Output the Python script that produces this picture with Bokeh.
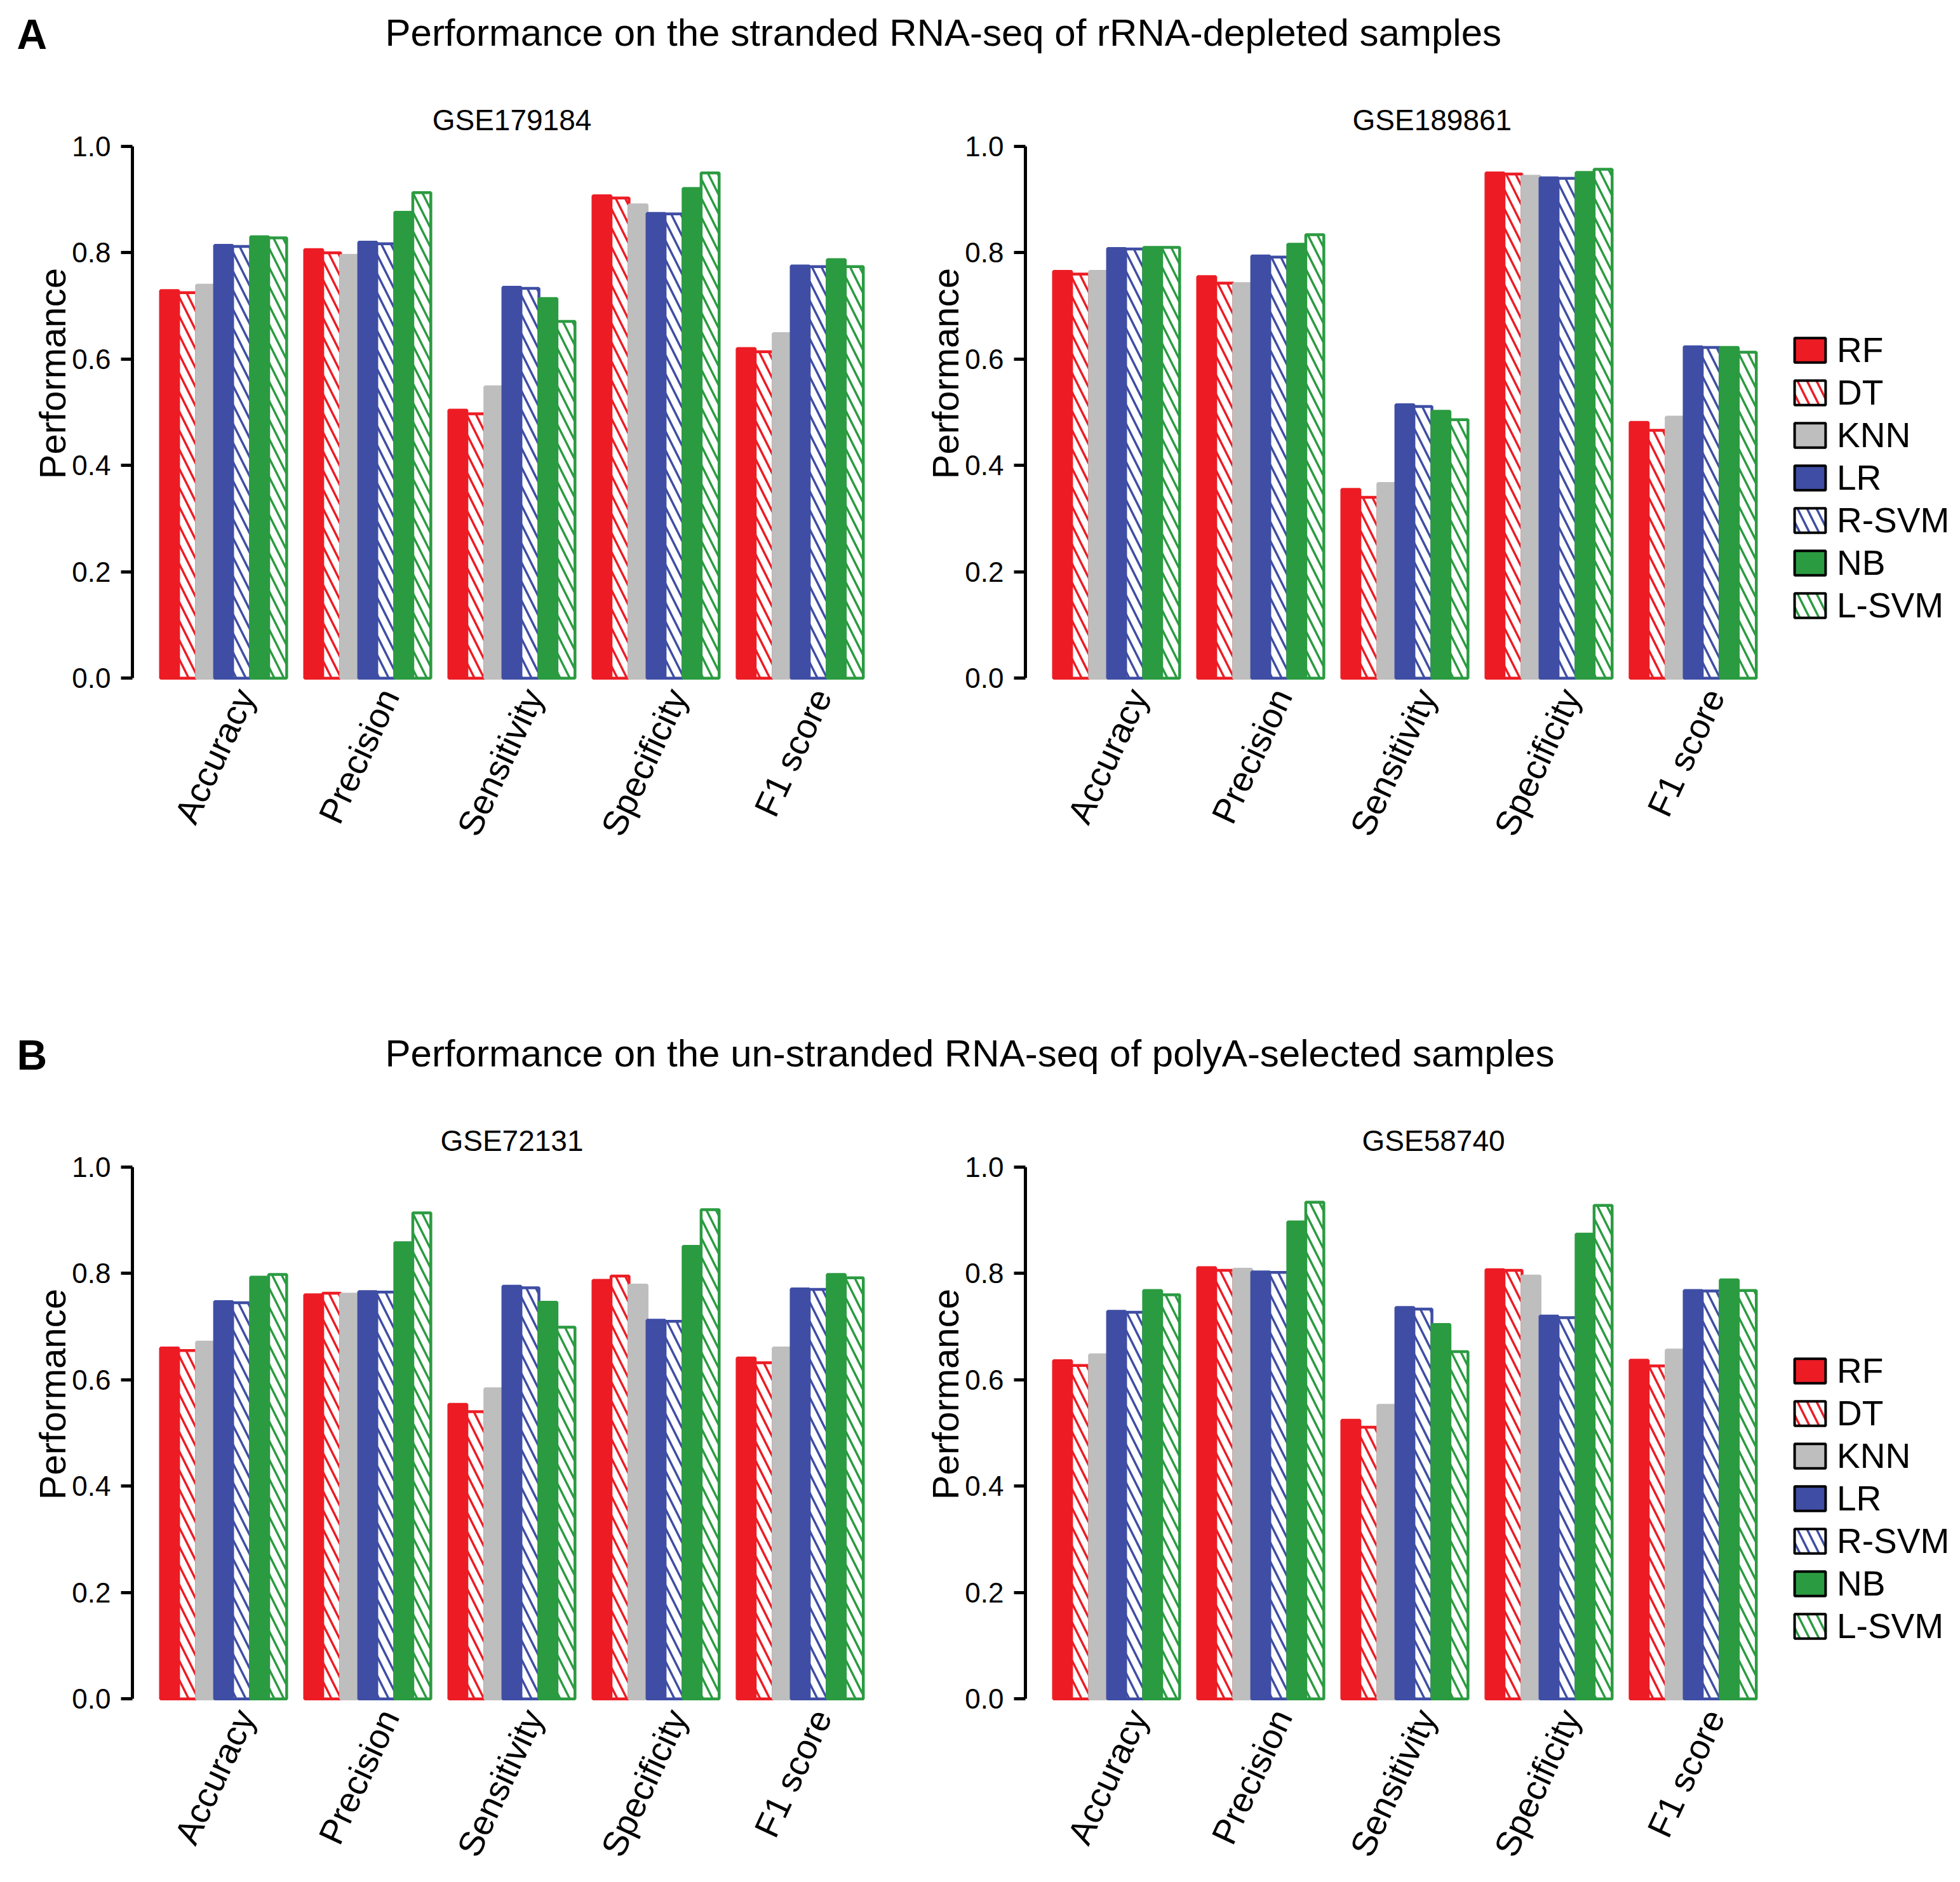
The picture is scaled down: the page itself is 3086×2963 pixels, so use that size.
from bokeh.plotting import figure
from bokeh.models import (ColumnDataSource, FixedTicker, PrintfTickFormatter, Legend,
                          LegendItem, Label, Range1d)
from bokeh.layouts import column, row
from bokeh.embed import file_html
from bokeh.resources import INLINE
from bokeh.core.properties import value

# ---------------- data ----------------
models = ["RF", "DT", "KNN", "LR", "R-SVM", "NB", "L-SVM"]
metrics = ["Accuracy", "Precision", "Sensitivity", "Specificity", "F1 score"]

# values per model, in the order of `metrics`
gse179184 = {
    "RF":    [0.729, 0.806, 0.504, 0.907, 0.620],
    "DT":    [0.725, 0.800, 0.497, 0.903, 0.614],
    "KNN":   [0.739, 0.795, 0.548, 0.890, 0.648],
    "LR":    [0.814, 0.820, 0.735, 0.874, 0.775],
    "R-SVM": [0.812, 0.817, 0.733, 0.873, 0.774],
    "NB":    [0.830, 0.876, 0.714, 0.921, 0.787],
    "L-SVM": [0.828, 0.913, 0.671, 0.950, 0.774],
}
gse189861 = {
    "RF":    [0.765, 0.755, 0.355, 0.950, 0.481],
    "DT":    [0.760, 0.743, 0.340, 0.948, 0.466],
    "KNN":   [0.765, 0.742, 0.366, 0.944, 0.491],
    "LR":    [0.808, 0.794, 0.514, 0.941, 0.623],
    "R-SVM": [0.807, 0.792, 0.511, 0.940, 0.622],
    "NB":    [0.810, 0.816, 0.502, 0.951, 0.622],
    "L-SVM": [0.810, 0.834, 0.486, 0.957, 0.613],
}
gse72131 = {
    "RF":    [0.660, 0.760, 0.554, 0.787, 0.641],
    "DT":    [0.655, 0.763, 0.540, 0.795, 0.632],
    "KNN":   [0.671, 0.761, 0.583, 0.778, 0.660],
    "LR":    [0.747, 0.766, 0.776, 0.712, 0.771],
    "R-SVM": [0.745, 0.765, 0.773, 0.710, 0.770],
    "NB":    [0.793, 0.858, 0.746, 0.851, 0.798],
    "L-SVM": [0.798, 0.914, 0.699, 0.920, 0.792],
}
gse58740 = {
    "RF":    [0.636, 0.811, 0.524, 0.807, 0.637],
    "DT":    [0.627, 0.806, 0.511, 0.806, 0.626],
    "KNN":   [0.647, 0.808, 0.552, 0.795, 0.656],
    "LR":    [0.729, 0.803, 0.736, 0.720, 0.768],
    "R-SVM": [0.727, 0.802, 0.733, 0.717, 0.767],
    "NB":    [0.768, 0.897, 0.704, 0.874, 0.788],
    "L-SVM": [0.760, 0.934, 0.653, 0.928, 0.768],
}
y_ticks = [0.0, 0.2, 0.4, 0.6, 0.8, 1.0]
y_title = "Performance"

title_a = "Performance on the stranded RNA-seq of rRNA-depleted samples"
title_b = "Performance on the un-stranded RNA-seq of polyA-selected samples"

# ---------------- style ----------------
RED, GRAY, BLUE, GREEN = "#ED1C24", "#BEBEBE", "#3F4EA4", "#2B9B41"
colors = {"RF": RED, "DT": RED, "KNN": GRAY, "LR": BLUE, "R-SVM": BLUE, "NB": GREEN, "L-SVM": GREEN}
hatched = {"DT", "R-SVM", "L-SVM"}

SANS = "Liberation Sans"

PAGE_W = 3070
PPU_Y = 837.0
Y0, Y1 = -0.3187, 1.0 + 2 / PPU_Y
FRAME_H = int(round((Y1 - Y0) * PPU_Y))
N_GROUP = len(metrics)
N_BAR = len(models)
X_LO, X_HI = 1.0, 1.0 + N_GROUP * (N_BAR + 1) - 1.0
PAD = 0.04 * (X_HI - X_LO)
FRAME_W = 1195
LEFT_B = 208
TOP_B = 128
HEADER_A = 100
HEADER_B = 1479 - FRAME_H
# the axis title sits above the frame centre, as in the original: lead it with
# non-breaking spaces so the centred text block shifts upward
Y_TITLE_SHIFT = "\u00a0" * 24


def bar_style(m, outline=None):
    kw = dict(line_color=outline or colors[m], line_width=4.5 if outline is None else 4)
    if m in hatched:
        kw.update(fill_color="white", hatch_pattern="left_diagonal_line",
                  hatch_color=colors[m], hatch_weight=3.5, hatch_scale=30)
    else:
        kw.update(fill_color=colors[m])
    return kw


def panel(name, data, with_legend, title_align="center", title_offset=0):
    p = figure(frame_width=FRAME_W, frame_height=FRAME_H,
               x_range=Range1d(X_LO - PAD, X_HI + PAD), y_range=Range1d(Y0, Y1),
               output_backend="svg", toolbar_location=None,
               x_axis_location=None, y_axis_location="left",
               min_border_left=LEFT_B, min_border_right=261 if with_legend else 3,
               min_border_top=TOP_B, min_border_bottom=0)
    p.grid.visible = False
    p.outline_line_color = None
    p.background_fill_color = "white"

    p.title.text = name
    p.title.align = title_align
    p.title.offset = title_offset
    p.title.text_font = SANS
    p.title.text_font_size = "46px"
    p.title.text_font_style = "normal"
    p.title.text_color = "black"
    p.title.standoff = 28

    for mi, m in enumerate(models):
        xs = [X_LO + g * (N_BAR + 1) + mi + 0.5 for g in range(N_GROUP)]
        src = ColumnDataSource(dict(x=xs, top=data[m]))
        p.vbar(x="x", top="top", bottom=0, width=1.0, source=src, **bar_style(m))

    # rotated category labels
    lab_x = [X_LO + g * (N_BAR + 1) + N_BAR / 2 + 1.2 for g in range(N_GROUP)]
    lab_src = ColumnDataSource(dict(x=lab_x, y=[-0.024] * N_GROUP, label=metrics))
    p.text(x="x", y="y", text="label", source=lab_src, angle=65, angle_units="deg",
           text_align="right", text_baseline="middle", text_color="black",
           text_font=value(SANS), text_font_size="55px")

    ax = p.yaxis[0]
    ax.bounds = (0, 1)
    ax.ticker = FixedTicker(ticks=y_ticks, minor_ticks=[])
    ax.formatter = PrintfTickFormatter(format="%.1f")
    ax.axis_line_width = 5
    ax.axis_line_color = "black"
    ax.major_tick_line_width = 5
    ax.major_tick_line_color = "black"
    ax.major_tick_out = 18
    ax.major_tick_in = 0
    ax.minor_tick_line_color = None
    ax.major_label_standoff = 16
    ax.major_label_text_font = SANS
    ax.major_label_text_font_size = "44px"
    ax.major_label_text_color = "black"
    ax.axis_label = Y_TITLE_SHIFT + y_title
    ax.axis_label_text_font = SANS
    ax.axis_label_text_font_size = "58px"
    ax.axis_label_text_font_style = "normal"
    ax.axis_label_text_color = "black"
    ax.axis_label_standoff = -5

    if with_legend:
        items = []
        for m in models:
            proxy = ColumnDataSource(dict(x=[X_LO + 0.5], top=[0.0]))
            r = p.vbar(x="x", top="top", width=1.0, source=proxy, visible=False,
                       **bar_style(m, outline="black"))
            items.append(LegendItem(label=m, renderers=[r]))
        leg = Legend(items=items, location=(10, 349), glyph_width=61, glyph_height=48,
                     label_text_font=SANS, label_text_font_size="55px", label_standoff=12,
                     label_text_color="black", spacing=3, padding=1, margin=0,
                     border_line_color=None, background_fill_alpha=0,
                     inactive_fill_alpha=0)
        p.add_layout(leg, "right")
    return p


def header(letter, text, h):
    f = figure(width=PAGE_W, height=h, x_range=Range1d(0, PAGE_W), y_range=Range1d(0, h),
               output_backend="svg", toolbar_location=None, min_border=0, title=None,
               x_axis_location=None, y_axis_location=None)
    f.grid.visible = False
    f.outline_line_color = None
    f.add_layout(Label(x=26, y=47, x_units="screen", y_units="screen", text=letter,
                       text_font=SANS, text_font_style="bold", text_font_size="66px",
                       text_color="black", text_baseline="alphabetic"))
    f.add_layout(Label(x=606, y=49, x_units="screen", y_units="screen", text=text,
                       text_font=SANS, text_font_size="60px", text_color="black",
                       text_baseline="alphabetic"))
    return f


hA = header("A", title_a, HEADER_A)
hB = header("B", title_b, HEADER_B)
pA1 = panel("GSE179184", gse179184, False)
pA2 = panel("GSE189861", gse189861, True, title_align="left", title_offset=515)
pB1 = panel("GSE72131", gse72131, False)
pB2 = panel("GSE58740", gse58740, True, title_align="left", title_offset=530)

layout = column(hA, row(pA1, pA2), hB, row(pB1, pB2))
open("out.html", "w").write(file_html(layout, INLINE))
